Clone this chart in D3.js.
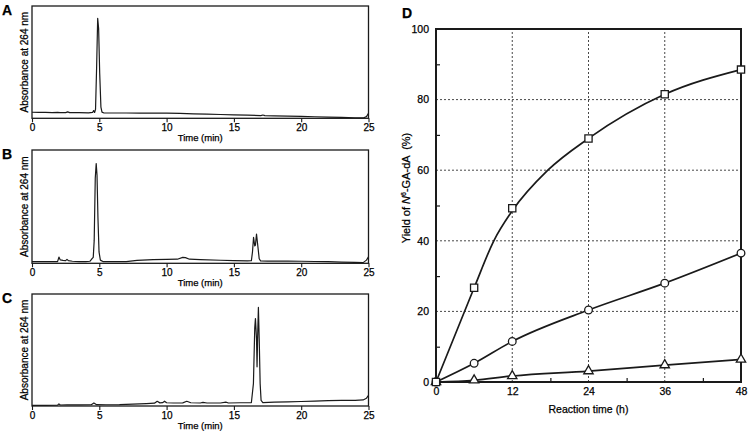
<!DOCTYPE html>
<html>
<head>
<meta charset="utf-8">
<script src="https://cdn.jsdelivr.net/npm/d3@7"></script>
<style>
  body { margin: 0; background: #fff; }
  svg { display: block; font-family: "Liberation Sans", Arial, sans-serif; }
  text { stroke: #000; stroke-width: 0.25px; }
</style>
</head>
<body>
<svg id="chart" width="748" height="431"></svg>
<script>
// chromatogram panels: retention time (min), absorbance in % of panel height
const timeTicks = [0, 5, 10, 15, 20, 25];

const traceA = [
  [0, 5.4], [0.5, 5.3], [1, 5.2], [1.5, 5.0], [1.9, 5.3], [2.1, 5.0], [2.5, 5.1], [2.65, 5.7], [2.8, 5.1],
  [3.5, 5.0], [4.2, 4.8], [4.5, 5.2], [4.58, 6.9], [4.65, 5.2], [4.72, 8], [4.8, 45], [4.88, 89],
  [4.95, 80], [5.03, 40], [5.12, 10], [5.2, 5.5], [5.35, 4.7], [6, 4.7], [7, 4.7], [8, 4.6], [9, 4.6],
  [10, 4.6], [11, 4.3], [12, 4.0], [13, 3.7], [14, 3.4], [15, 3.1], [16, 2.8], [17, 2.4], [17.15, 2.9],
  [17.3, 2.4], [18, 2.2], [19, 1.9], [20, 1.7], [21, 1.4], [22, 1.1], [23, 0.8], [24, 0.5], [24.6, 0.3],
  [24.85, 1.5], [25, 4.5]
];

const traceB = [
  [0, 1.4], [1, 1.4], [1.9, 1.5], [2.0, 5.5], [2.1, 3.0], [2.3, 2.6], [2.5, 2.3], [2.6, 3.5], [2.7, 2.3],
  [3, 1.8], [3.5, 1.5], [4.0, 1.4], [4.3, 1.8], [4.45, 4.0], [4.55, 5.2], [4.62, 20], [4.7, 75],
  [4.77, 88], [4.83, 78], [4.9, 40], [4.98, 10], [5.08, 2.8], [5.3, 1.4], [6, 1.4], [7, 1.5], [7.8, 2.6],
  [9, 3.2], [10, 3.4], [10.8, 3.6], [11.2, 5.2], [11.4, 5.0], [11.7, 3.6], [12.5, 3.2], [14, 2.7],
  [15, 2.4], [16, 2.2], [16.3, 2.4], [16.38, 10], [16.46, 23], [16.55, 15.3], [16.6, 16], [16.68, 25.7],
  [16.78, 15], [16.88, 4], [16.98, 2.2], [17.5, 2.0], [19, 2.0], [20, 1.8], [21, 1.6], [22, 1.4],
  [23, 1.1], [24, 0.8], [24.6, 0.6], [24.85, 2.8], [25, 5.8]
];

const traceC = [
  [0, 0.5], [1, 0.6], [1.9, 0.8], [2.0, 1.9], [2.1, 0.9], [2.6, 1.0], [3.5, 1.0], [4.4, 1.1], [4.6, 2.7],
  [4.8, 1.2], [5.5, 1.1], [6.5, 1.2], [7.5, 1.6], [8.5, 2.2], [9.1, 2.5], [9.3, 4.2], [9.5, 2.8],
  [9.7, 3.0], [9.85, 4.3], [10.0, 2.9], [10.5, 2.7], [11.2, 2.8], [11.5, 4.2], [11.8, 2.9], [12.5, 2.7],
  [12.7, 3.2], [13, 2.7], [14, 2.7], [14.4, 3.4], [14.6, 2.7], [15.5, 2.9], [16.3, 3.1], [16.45, 20],
  [16.55, 70], [16.6, 78], [16.68, 60], [16.72, 35], [16.76, 60], [16.82, 88], [16.88, 60], [16.95, 20],
  [17.02, 5], [17.15, 3.1], [18, 3.4], [19, 3.7], [20, 4.0], [21, 4.4], [22, 4.8], [23, 5.0], [24, 5.1],
  [24.6, 5.4], [24.85, 7], [25, 9.5]
];

// panel D: reaction time (h) and yield (%)
const hours = [0, 6, 12, 24, 36, 48];
const yieldSquare = [0, 26.7, 49.2, 69.0, 81.5, 88.5];
const yieldCircle = [0, 5.3, 11.5, 20.4, 28.0, 36.5];
const yieldTriangle = [0, 0.5, 1.7, 3.1, 4.8, 6.4];
// fitted curve through the squares
const fitHoursSquare = [0, 6, 9.1, 12, 17.6, 24, 36, 48];
const fitSquare = [0, 26.7, 40, 48.5, 60, 69.0, 81.5, 88.5];
const hourTicks = [0, 12, 24, 36, 48];
const hourMinor = [6, 18, 30, 42];
const yieldTicks = [0, 20, 40, 60, 80, 100];
const yieldMinor = [10, 30, 50, 70, 90];

const ink = "#1a1a1a";
const svg = d3.select("#chart");

function chromatogram(trace, top, bottom, letter) {
  const x = d3.scaleLinear().domain([0, 25]).range([32, 368.5]);
  const y = d3.scaleLinear().domain([0, 100]).range([bottom, top]);
  const g = svg.append("g");

  g.append("path")
    .datum(trace)
    .attr("d", d3.line().x(d => x(d[0])).y(d => y(d[1])))
    .attr("fill", "none")
    .attr("stroke", ink)
    .attr("stroke-width", 1.2)
    .attr("stroke-linejoin", "round");

  g.append("rect")
    .attr("x", x(0)).attr("y", top)
    .attr("width", x(25) - x(0)).attr("height", bottom - top)
    .attr("fill", "none").attr("stroke", ink).attr("stroke-width", 1.3);

  const ax = g.append("g")
    .attr("transform", `translate(0,${bottom})`)
    .call(d3.axisBottom(x).tickValues(timeTicks).tickSize(4).tickPadding(2));
  ax.select(".domain").remove();
  ax.selectAll("line").attr("stroke", ink).attr("stroke-width", 1.1);
  ax.selectAll("text").attr("font-size", 10).attr("fill", "#000").attr("font-family", null);

  g.append("text")
    .attr("x", (x(0) + x(25)) / 2).attr("y", bottom + 22.5)
    .attr("text-anchor", "middle").attr("font-size", 9.5)
    .text("Time (min)");

  g.append("text")
    .attr("transform", `translate(28,${(top + bottom) / 2}) rotate(-90)`)
    .attr("text-anchor", "middle").attr("font-size", 10)
    .text("Absorbance at 264 nm");

  g.append("text")
    .attr("x", 2).attr("y", top + 9)
    .attr("font-size", 14).attr("font-weight", "bold")
    .text(letter);
}

chromatogram(traceA, 6, 118.3, "A");
chromatogram(traceB, 150, 263.3, "B");
chromatogram(traceC, 294, 406, "C");

// panel D
const xD = d3.scaleLinear().domain([0, 48]).range([436, 741]);
const yD = d3.scaleLinear().domain([0, 100]).range([382, 29]);
const gD = svg.append("g");

gD.append("g").selectAll("line").data([12, 24, 36]).join("line")
  .attr("x1", d => xD(d)).attr("x2", d => xD(d))
  .attr("y1", yD(0)).attr("y2", yD(100))
  .attr("stroke", "#333").attr("stroke-width", 0.9).attr("stroke-dasharray", "2,2");
gD.append("g").selectAll("line").data([20, 40, 60, 80]).join("line")
  .attr("x1", xD(0)).attr("x2", xD(48))
  .attr("y1", d => yD(d)).attr("y2", d => yD(d))
  .attr("stroke", "#333").attr("stroke-width", 0.9).attr("stroke-dasharray", "2,2");

const left = gD.append("g").attr("transform", `translate(${xD(0)},0)`)
  .call(d3.axisLeft(yD).tickValues(yieldTicks).tickSize(0).tickPadding(7));
left.select(".domain").remove();
left.selectAll("text").attr("font-size", 10.5).attr("fill", "#000").attr("font-family", null);

const leftMinor = gD.append("g").attr("transform", `translate(${xD(0)},0)`)
  .call(d3.axisLeft(yD).tickValues(yieldMinor).tickSize(-4).tickFormat(""));
leftMinor.select(".domain").remove();
leftMinor.selectAll("line").attr("stroke", ink).attr("stroke-width", 1.2);

const bottom = gD.append("g").attr("transform", `translate(0,${yD(0)})`)
  .call(d3.axisBottom(xD).tickValues(hourTicks).tickSize(0).tickPadding(6));
bottom.select(".domain").remove();
bottom.selectAll("text").attr("font-size", 10.5).attr("fill", "#000").attr("font-family", null);

const bottomMinor = gD.append("g").attr("transform", `translate(0,${yD(0)})`)
  .call(d3.axisBottom(xD).tickValues(hourMinor).tickSize(-4).tickFormat(""));
bottomMinor.select(".domain").remove();
bottomMinor.selectAll("line").attr("stroke", ink).attr("stroke-width", 1.2);

gD.append("rect")
  .attr("x", xD(0)).attr("y", yD(100))
  .attr("width", xD(48) - xD(0)).attr("height", yD(0) - yD(100))
  .attr("fill", "none").attr("stroke", ink).attr("stroke-width", 2);

const series = [
  { values: yieldTriangle, symbol: d3.symbolTriangle, size: 38, fitX: hours, fitY: yieldTriangle },
  { values: yieldCircle, symbol: d3.symbolCircle, size: 46, fitX: hours, fitY: yieldCircle },
  { values: yieldSquare, symbol: d3.symbolSquare, size: 52, fitX: fitHoursSquare, fitY: fitSquare }
];

series.forEach(s => {
  const line = d3.line()
    .x((d, i) => xD(s.fitX[i]))
    .y(d => yD(d))
    .curve(d3.curveMonotoneX);
  gD.append("path")
    .datum(s.fitY)
    .attr("d", line)
    .attr("fill", "none").attr("stroke", ink).attr("stroke-width", 1.7);
});

series.forEach(s => {
  gD.append("g").selectAll("path").data(s.values).join("path")
    .attr("transform", (d, i) => `translate(${xD(hours[i])},${yD(d)})`)
    .attr("d", d3.symbol().type(s.symbol).size(s.size))
    .attr("fill", "#fff").attr("stroke", ink).attr("stroke-width", 1.3);
});

gD.append("text")
  .attr("x", (xD(0) + xD(48)) / 2).attr("y", 413)
  .attr("text-anchor", "middle").attr("font-size", 10.5)
  .text("Reaction time (h)");

const yl = gD.append("text")
  .attr("transform", `translate(410,188) rotate(-90)`)
  .attr("text-anchor", "middle").attr("font-size", 11)
  .attr("xml:space", "preserve");
yl.append("tspan").text("Yield of ");
yl.append("tspan").attr("font-style", "italic").text("N");
yl.append("tspan").attr("font-size", 7).attr("dy", -4).text("6");
yl.append("tspan").attr("dy", 4).text("-GA-dA  (%)");

gD.append("text")
  .attr("x", 402).attr("y", 18)
  .attr("font-size", 14).attr("font-weight", "bold")
  .text("D");
</script>
</body>
</html>
